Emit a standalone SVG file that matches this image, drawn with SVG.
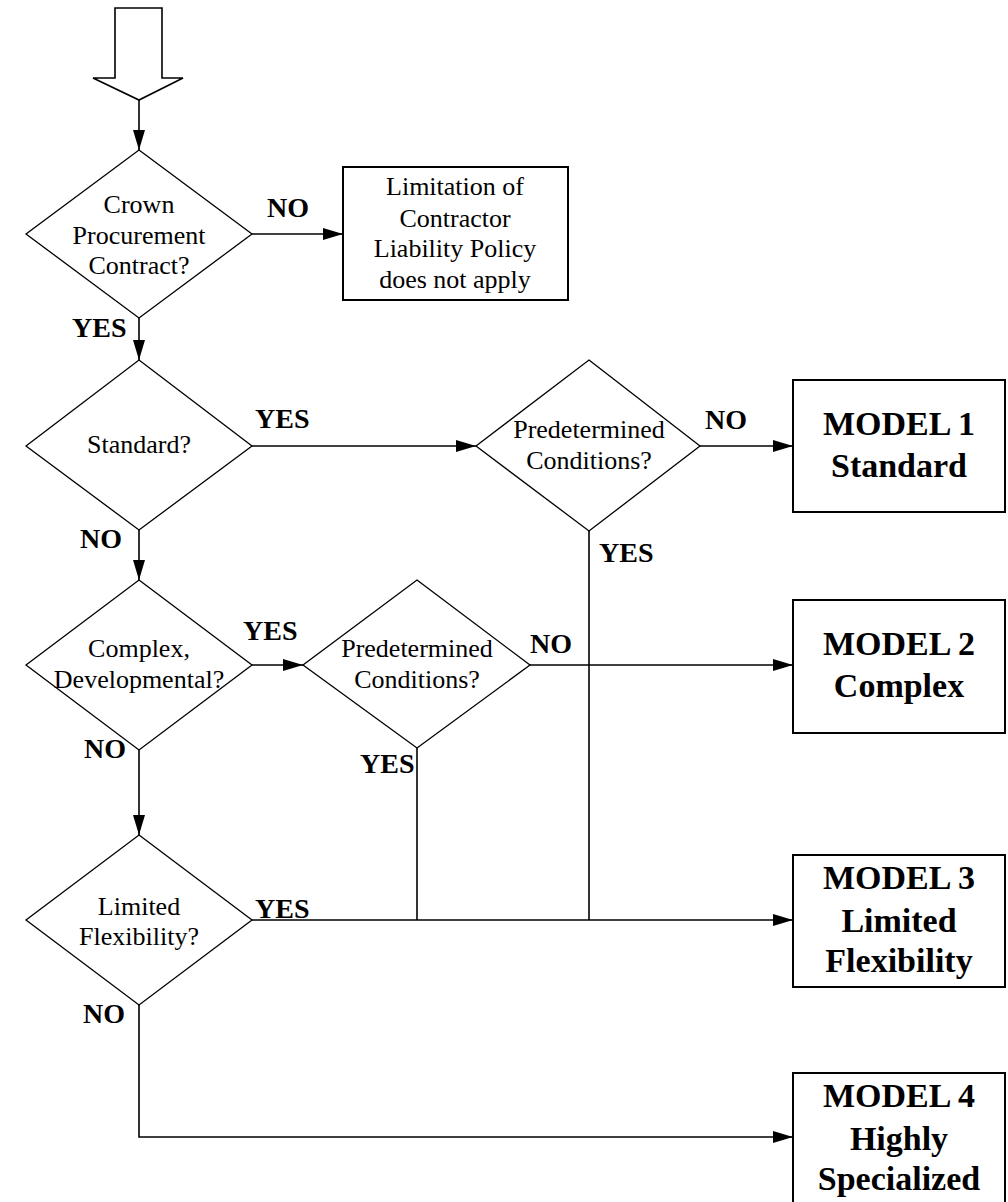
<svg xmlns="http://www.w3.org/2000/svg" width="1008" height="1202" viewBox="0 0 1008 1202">
<style>
.bg{fill:#fff}
.dia{fill:#fff;stroke:#000;stroke-width:1.3}
.box{fill:#fff;stroke:#000;stroke-width:2}
.ln{fill:none;stroke:#000;stroke-width:1.6}
.t{font-family:"Liberation Serif","Times New Roman",serif;font-size:26px;fill:#000;text-anchor:middle}
.m{font-family:"Liberation Serif","Times New Roman",serif;font-size:34px;font-weight:bold;fill:#000;text-anchor:middle}
.lb{font-family:"Liberation Serif","Times New Roman",serif;font-size:28px;font-weight:bold;fill:#000}
</style>
<defs>
<marker id="ah" markerUnits="userSpaceOnUse" markerWidth="20" markerHeight="12" refX="20" refY="6" orient="auto">
<path d="M0,0 L20,6 L0,12 z" fill="#000"/>
</marker>
</defs>
<rect class="bg" x="0" y="0" width="1008" height="1202"/>

<g id="connectors">
<path class="ln" d="M139,100 V150" marker-end="url(#ah)"/>
<path class="ln" d="M252,234 H343" marker-end="url(#ah)"/>
<path class="ln" d="M139,318 V360" marker-end="url(#ah)"/>
<path class="ln" d="M252,446 H476" marker-end="url(#ah)"/>
<path class="ln" d="M700,446 H793" marker-end="url(#ah)"/>
<path class="ln" d="M589,531 V920"/>
<path class="ln" d="M139,530 V580" marker-end="url(#ah)"/>
<path class="ln" d="M252,665 H303" marker-end="url(#ah)"/>
<path class="ln" d="M530,665 H793" marker-end="url(#ah)"/>
<path class="ln" d="M417,748 V920"/>
<path class="ln" d="M139,750 V835" marker-end="url(#ah)"/>
<path class="ln" d="M252,920 H793" marker-end="url(#ah)"/>
<path class="ln" d="M139,1005 V1137 H793" marker-end="url(#ah)"/>
</g>

<g id="start">
<polygon points="115,8 162,8 162,78 183,78 139,100 93,78 115,78" fill="#fff" stroke="#000" stroke-width="1.6"/>
</g>

<g id="q-crown">
<polygon class="dia" points="139,150 252,234 139,318 26,234"/>
<text class="t" x="139" y="213">Crown</text>
<text class="t" x="139" y="244">Procurement</text>
<text class="t" x="139" y="274">Contract?</text>
</g>

<g id="not-apply">
<rect class="box" x="343" y="167" width="225" height="133"/>
<text class="t" x="455" y="195">Limitation of</text>
<text class="t" x="455" y="227">Contractor</text>
<text class="t" x="455" y="257">Liability Policy</text>
<text class="t" x="455" y="288">does not apply</text>
</g>

<g id="q-standard">
<polygon class="dia" points="139,360 252,446 139,530 26,446"/>
<text class="t" x="139" y="453">Standard?</text>
</g>

<g id="q-pred1">
<polygon class="dia" points="589,360 700,446 589,531 476,446"/>
<text class="t" x="589" y="438">Predetermined</text>
<text class="t" x="589" y="469">Conditions?</text>
</g>

<g id="q-complex">
<polygon class="dia" points="139,580 252,665 139,750 26,665"/>
<text class="t" x="139" y="657">Complex,</text>
<text class="t" x="139" y="688">Developmental?</text>
</g>

<g id="q-pred2">
<polygon class="dia" points="417,580 530,665 417,748 303,665"/>
<text class="t" x="417" y="657">Predetermined</text>
<text class="t" x="417" y="688">Conditions?</text>
</g>

<g id="q-limited">
<polygon class="dia" points="139,835 252,920 139,1005 26,920"/>
<text class="t" x="139" y="915">Limited</text>
<text class="t" x="139" y="945">Flexibility?</text>
</g>

<g id="model1">
<rect class="box" x="793" y="380" width="212" height="132"/>
<text class="m" x="899" y="435">MODEL 1</text>
<text class="m" x="899" y="477">Standard</text>
</g>

<g id="model2">
<rect class="box" x="793" y="600" width="212" height="133"/>
<text class="m" x="899" y="655">MODEL 2</text>
<text class="m" x="899" y="697">Complex</text>
</g>

<g id="model3">
<rect class="box" x="793" y="855" width="212" height="132"/>
<text class="m" x="899" y="889">MODEL 3</text>
<text class="m" x="899" y="932">Limited</text>
<text class="m" x="899" y="972">Flexibility</text>
</g>

<g id="model4">
<rect class="box" x="793" y="1073" width="212" height="140"/>
<text class="m" x="899" y="1107">MODEL 4</text>
<text class="m" x="899" y="1150">Highly</text>
<text class="m" x="899" y="1190">Specialized</text>
</g>

<g id="labels">
<text class="lb" x="267" y="217">NO</text>
<text class="lb" x="72" y="337">YES</text>
<text class="lb" x="255" y="428">YES</text>
<text class="lb" x="705" y="429">NO</text>
<text class="lb" x="599" y="562">YES</text>
<text class="lb" x="80" y="548">NO</text>
<text class="lb" x="243" y="640">YES</text>
<text class="lb" x="530" y="653">NO</text>
<text class="lb" x="84" y="758">NO</text>
<text class="lb" x="360" y="773">YES</text>
<text class="lb" x="255" y="918">YES</text>
<text class="lb" x="83" y="1023">NO</text>
</g>
</svg>
